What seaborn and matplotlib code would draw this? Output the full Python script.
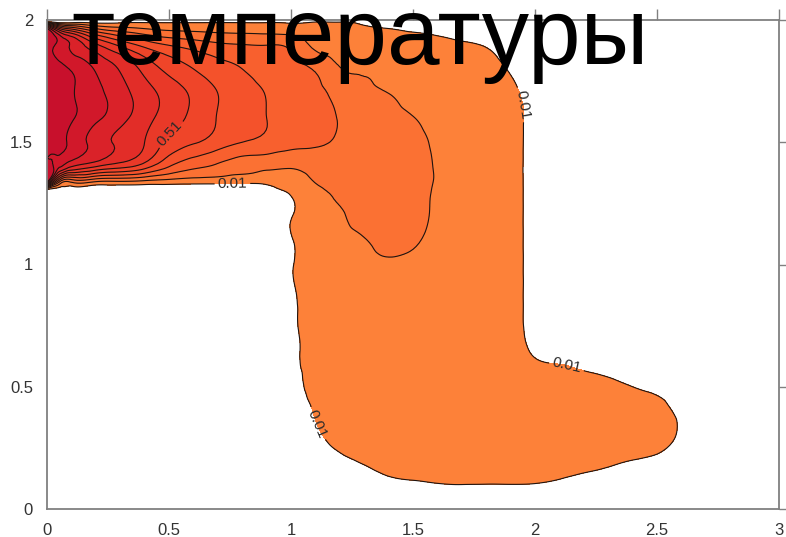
import numpy as np
import matplotlib
matplotlib.use("Agg")
import matplotlib.pyplot as plt
import matplotlib.tri as mtri
import seaborn as sns

sns.set_theme(style="white")
plt.rcParams["font.family"] = ["Liberation Sans", "DejaVu Sans"]

title_text = "температуры"

# sample positions of the temperature field
x_nodes = [0, 0.05, 0.1, 0.2, 0.3, 0.4, 0.5, 0.6, 0.7, 0.8, 0.9, 1.0, 1.1, 1.2, 1.3, 1.4,
           1.5, 1.6, 1.7, 1.8, 1.9, 2.0, 2.1, 2.2, 2.3, 2.4, 2.5, 2.6, 2.7, 2.8, 2.9, 3.0]
y_nodes = [0, 0.1, 0.2, 0.3, 0.4, 0.5, 0.6, 0.7, 0.8, 0.9, 1.0, 1.1, 1.2, 1.3, 1.34,
           1.4, 1.5, 1.6, 1.7, 1.8, 1.9, 1.96, 2.0]

# temperature, one row per y node (values < 0.01 stay blank)
temperature = [
    [-.1, -.1, -.1, -.1, -.1, -.1, -.1, -.1, -.1, -.1, -.1,  -.1, -.1, -.1, -.08, -.058, -.05, -.043, -.04, -.04, -.04, -.0425,  -.05, -.06, -.07, -.085, -.1, -.1, -.1, -.1, -.1, -.1],
    [-.1, -.1, -.1, -.1, -.1, -.1, -.1, -.1, -.1, -.1, -.1,  -.1, -.075, -.04, -.026, -.0075, 0.0, .007, .01, .009, .0095, .0075,  -.0025, -.0145, -.025, -.04, -.07, -.09, -.1, -.1, -.1, -.1],
    [-.1, -.1, -.1, -.1, -.1, -.1, -.1, -.1, -.1, -.1, -.1,  -.07, -.035, -.0035, .019, .04, .05, .057, .06, .06, .06, .0575,  .0475, .034, .024, .01, -.005, -.03, -.06, -.1, -.1, -.1],
    [-.1, -.1, -.1, -.1, -.1, -.1, -.1, -.1, -.1, -.1, -.1,  -.045, -.003, .039, .06, .06, .06, .06, .06, .06, .06, .06,  .06, .06, .06, .055, .04, 0.0, -.0475, -.1, -.1, -.1],
    [-.1, -.1, -.1, -.1, -.1, -.1, -.1, -.1, -.1, -.1, -.1,  -.033, .015, .06, .06, .06, .06, .06, .06, .06, .06, .06,  .06, .06, .06, .06, .035, -.004, -.045, -.1, -.1, -.1],
    [-.1, -.1, -.1, -.1, -.1, -.1, -.1, -.1, -.1, -.1, -.1,  -.0225, .0275, .06, .06, .06, .06, .06, .06, .06, .06, .06,  .053, .041, .0275, .01, -.0075, -.035, -.08, -.1, -.1, -.1],
    [-.1, -.1, -.1, -.1, -.1, -.1, -.1, -.1, -.1, -.1, -.1,  -.0175, .0325, .06, .06, .06, .06, .06, .06, .06, .05, .018,  .005, -.0075, -.02, -.0375, -.055, -.065, -.1, -.1, -.1, -.1],
    [-.1, -.1, -.1, -.1, -.1, -.1, -.1, -.1, -.1, -.1, -.06,  -.01, .04, .06, .06, .06, .06, .06, .06, .06, .0375, -.0125,  -.05, -.055, -.07, -.09, -.1, -.1, -.1, -.1, -.1, -.1],
    [-.1, -.1, -.1, -.1, -.1, -.1, -.1, -.1, -.1, -.1, -.055,  -.005, .045, .06, .06, .06, .06, .06, .06, .06, .035, -.015,  -.065, -.1, -.1, -.1, -.1, -.1, -.1, -.1, -.1, -.1],
    [-.1, -.1, -.1, -.1, -.1, -.1, -.1, -.1, -.1, -.1, -.05,  0.0, .05, .06, .065, .07, .07, .065, .06, .06, .035, -.015,  -.065, -.1, -.1, -.1, -.1, -.1, -.1, -.1, -.1, -.1],
    [-.1, -.1, -.1, -.1, -.1, -.1, -.1, -.1, -.1, -.1, -.045,  .004, .06, .08, .095, .103, .098, .083, .07, .062, .035, -.015,  -.065, -.1, -.1, -.1, -.1, -.1, -.1, -.1, -.1, -.1],
    [-.1, -.1, -.1, -.1, -.1, -.1, -.1, -.1, -.1, -.1, -.043,  .005, .068, .095, .108, .12, .115, .095, .075, .065, .035, -.015,  -.065, -.1, -.1, -.1, -.1, -.1, -.1, -.1, -.1, -.1],
    [-.1, -.1, -.1, -.1, -.1, -.1, -.1, -.1, -.1, -.1, -.04,  .006, .075, .106, .128, .135, .125, .10, .075, .065, .035, -.015,  -.065, -.1, -.1, -.1, -.1, -.1, -.1, -.1, -.1, -.1],
    [-.1, -.1, -.1, -.1, -.1, -.1, -.1, -.1, -.1, -.1, -.03,  .02, .085, .125, .14, .145, .135, .10, .075, .065, .035, -.015,  -.065, -.1, -.1, -.1, -.1, -.1, -.1, -.1, -.1, -.1],
    [1.0, .25, .14, .12, .11, .09, .07, .055, .05, .04, .035,  .05, .115, .14, .148, .148, .138, .103, .075, .065, .035, -.015,  -.065, -.1, -.1, -.1, -.1, -.1, -.1, -.1, -.1, -.1],
    [1.0, .82, .71, .61, .54, .45, .31, .23, .19, .145, .13,  .12, .145, .16, .16, .15, .135, .103, .075, .065, .035, -.015,  -.065, -.1, -.1, -.1, -.1, -.1, -.1, -.1, -.1, -.1],
    [1.0, .94, .89, .77, .69, .61, .48, .42, .36, .31, .28,  .24, .225, .195, .17, .15, .13, .097, .07, .06, .035, -.015,  -.065, -.1, -.1, -.1, -.1, -.1, -.1, -.1, -.1, -.1],
    [1.0, .96, .92, .835, .745, .65, .56, .485, .405, .355, .31,  .27, .24, .205, .17, .135, .112, .08, .065, .06, .035, -.015,  -.065, -.1, -.1, -.1, -.1, -.1, -.1, -.1, -.1, -.1],
    [1.0, .96, .92, .84, .75, .655, .57, .49, .41, .355, .305,  .265, .235, .18, .13, .11, .085, .065, .06, .06, .0275, -.0225,  -.0725, -.1, -.1, -.1, -.1, -.1, -.1, -.1, -.1, -.1],
    [1.0, .95, .90, .80, .70, .58, .48, .41, .35, .31, .27,  .235, .20, .115, .10, .085, .065, .06, .06, .038, .003, -.05,  -.1, -.1, -.1, -.1, -.1, -.1, -.1, -.1, -.1, -.1],
    [1.0, .88, .80, .62, .48, .37, .30, .26, .225, .21, .205,  .185, .08, .065, .06, .0425, .035, .0275, .0175, .005, -.025, -.07,  -.1, -.1, -.1, -.1, -.1, -.1, -.1, -.1, -.1, -.1],
    [1.0, .60, .45, .25, .17, .13, .10, .09, .08, .075, .07,  .06, .05, .04, .02, .0125, .005, -.0025, -.0125, -.025, -.05, -.08,  -.1, -.1, -.1, -.1, -.1, -.1, -.1, -.1, -.1, -.1],
    [-.3, -.3, -.2, -.1, -.054, -.03, -.02, -.017, -.013, -.012, -.01,  -.007, -.003, -.002, 0.0, -.0075, -.015, -.0225, -.0325, -.045, -.07, -.09,  -.1, -.1, -.1, -.1, -.1, -.1, -.1, -.1, -.1, -.1],
]

line_levels = [0.01, 0.11, 0.21, 0.31, 0.41, 0.51, 0.61, 0.71, 0.81, 0.91]
band_colors = ["#FD8139", "#FB7133", "#F8602E", "#F4522B", "#EF4529",
               "#E93928", "#E22D28", "#DA2229", "#D1182A", "#C8102C"]
# where the level labels sit
spots_001 = [(0.76, 1.33), (1.93, 1.65), (2.13, 0.585), (1.11, 0.35)]
spots_051 = [(0.50, 1.54)]

x_ticks = [0, 0.5, 1, 1.5, 2, 2.5, 3]
x_tick_labels = ["0", "0.5", "1", "1.5", "2", "2.5", "3"]
y_ticks = [0, 0.5, 1, 1.5, 2]
y_tick_labels = ["0", "0.5", "1", "1.5", "2"]

# grid triangulation, every cell split along the same diagonal
nx, ny = len(x_nodes), len(y_nodes)
gx, gy = np.meshgrid(x_nodes, y_nodes)
cells = []
for r in range(ny - 1):
    for c in range(nx - 1):
        a, b = r * nx + c, r * nx + c + 1
        d, e = a + nx, b + nx
        cells += [[a, b, e], [a, e, d]]
tri = mtri.Triangulation(gx.ravel(), gy.ravel(), np.array(cells))
field = np.array(temperature).ravel()
tri_fine, field_fine = mtri.UniformTriRefiner(tri).refine_field(field, subdiv=3)

fig = plt.figure(figsize=(7.86, 5.37), dpi=100)
ax = fig.add_axes([47 / 786, 1 - 509 / 537, 732 / 786, 489 / 537])

palette = sns.color_palette(band_colors)
ax.tricontourf(tri_fine, field_fine, levels=line_levels + [5.0], colors=palette)

line_kw = dict(colors="#1e1410", linewidths=0.8)
other_levels = [lv for lv in line_levels if lv not in (0.01, 0.51)]
ax.tricontour(tri_fine, field_fine, levels=other_levels, **line_kw)
cs_001 = ax.tricontour(tri_fine, field_fine, levels=[0.01], **line_kw)
cs_051 = ax.tricontour(tri_fine, field_fine, levels=[0.51], **line_kw)

label_kw = dict(fmt="%.2f", fontsize=11, colors="#2a2a2a", inline=True, inline_spacing=3)
texts = ax.clabel(cs_001, manual=spots_001, **label_kw)
texts += ax.clabel(cs_051, manual=spots_051, **label_kw)
for t in texts:
    t.set_family(["Liberation Sans", "DejaVu Sans"])

ax.set_xlim(0, 3)
ax.set_ylim(0, 2)
ax.set_xticks(x_ticks)
ax.set_xticklabels(x_tick_labels)
ax.set_yticks(y_ticks)
ax.set_yticklabels(y_tick_labels)
ax.tick_params(direction="out", length=8, width=1, color="#808080", labelsize=12,
               labelcolor="#333333", top=True, right=True, labeltop=False, labelright=False,
               pad=2)
for lab in ax.get_xticklabels() + ax.get_yticklabels():
    lab.set_family(["Liberation Sans Narrow", "Liberation Sans", "DejaVu Sans"])
for side in ax.spines.values():
    side.set_visible(True)
    side.set_color("#808080")
    side.set_linewidth(1.3)
ax.grid(False)

fig.text(71 / 786, 1 - 64 / 537, title_text, fontsize=68, color="black",
         ha="left", va="baseline", family=["Liberation Sans", "DejaVu Sans"])

fig.savefig("out.png", dpi=100)
plt.close(fig)
print("Saved out.png")
